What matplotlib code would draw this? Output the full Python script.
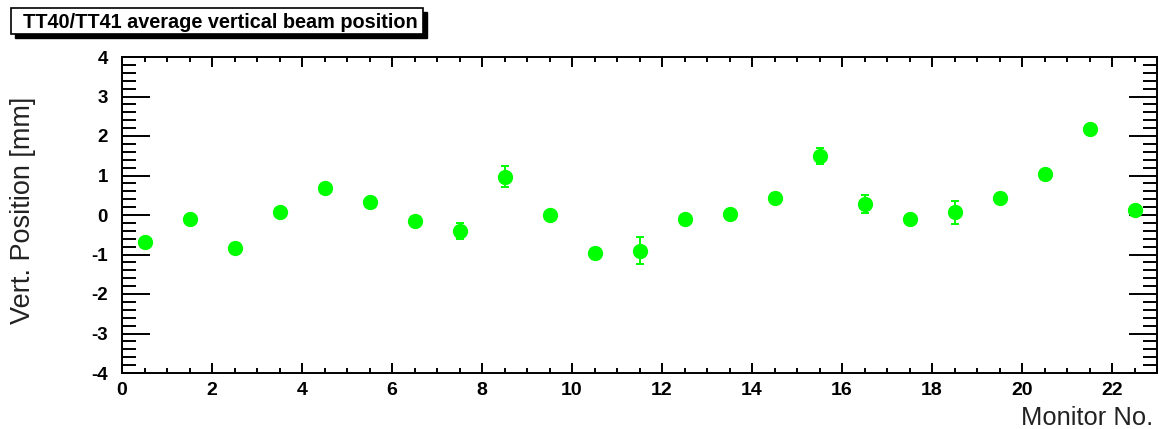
import matplotlib
matplotlib.use('Agg')
import matplotlib.pyplot as plt
from matplotlib.patches import Rectangle
from matplotlib.ticker import MultipleLocator

plt.rcParams['font.family'] = ['Liberation Sans', 'DejaVu Sans']
plt.rcParams['axes.unicode_minus'] = False

# monitor index (bin centres) and measured vertical position
monitor = [0.5, 1.5, 2.5, 3.5, 4.5, 5.5, 6.5, 7.5, 8.5, 9.5, 10.5, 11.5,
           12.5, 13.5, 14.5, 15.5, 16.5, 17.5, 18.5, 19.5, 20.5, 21.5, 22.5]
position = [-0.69, -0.11, -0.84, 0.08, 0.68, 0.32, -0.15, -0.40, 0.97, -0.01, -0.97, -0.90,
            -0.10, 0.03, 0.42, 1.49, 0.27, -0.10, 0.07, 0.42, 1.05, 2.17, 0.13]
error = [0.08, 0.06, 0.07, 0.06, 0.07, 0.07, 0.06, 0.20, 0.27, 0.05, 0.07, 0.34,
         0.06, 0.06, 0.07, 0.21, 0.23, 0.06, 0.29, 0.07, 0.06, 0.07, 0.06]

title = 'TT40/TT41 average vertical beam position'

W, H = 1159, 429
fig = plt.figure(figsize=(W / 100, H / 100), dpi=100)
ax = fig.add_axes([122 / W, 56 / H, 1035 / W, 316 / H])

ax.errorbar(monitor, position, yerr=error, fmt='o', color='#00ff00', ms=10,
            mec='#00ff00', elinewidth=1.4, capsize=3.2, capthick=1.4)

ax.set_xlim(0, 23)
ax.set_ylim(-4, 4)
ax.xaxis.set_major_locator(MultipleLocator(2))
ax.xaxis.set_minor_locator(MultipleLocator(0.5))
ax.yaxis.set_major_locator(MultipleLocator(1))
ax.yaxis.set_minor_locator(MultipleLocator(0.2))

for s in ax.spines.values():
    s.set_linewidth(1.4)

ax.tick_params(axis='x', which='major', direction='in', top=True, bottom=True,
               length=7.2, width=1.4, pad=6.5, labelsize=14)
ax.tick_params(axis='x', which='minor', direction='in', top=True, bottom=True,
               length=3.8, width=1.4)
ax.tick_params(axis='y', which='major', direction='in', left=True, right=True,
               length=20, width=1.4, pad=10, labelsize=13.5)
ax.tick_params(axis='y', which='minor', direction='in', left=True, right=True,
               length=10, width=1.4)
for lab in ax.get_xticklabels() + ax.get_yticklabels():
    lab.set_fontweight('bold')

# axis titles (ROOT style)
fig.text(30 / W, 1 - 210.5 / H, 'Vert. Position [mm]', rotation=90,
         rotation_mode='anchor', ha='center', va='baseline', fontsize=19.5,
         color='#222222')
fig.text(1153 / W, 4 / H, 'Monitor No.', ha='right', va='baseline',
         fontsize=18.4, color='#222222')

# title box with drop shadow
fig.patches.append(Rectangle((15 / W, 1 - 38 / H), 412 / W, 26 / H,
                             transform=fig.transFigure, facecolor='black',
                             edgecolor='black', zorder=1))
fig.patches.append(Rectangle((11 / W, 1 - 34 / H), 412 / W, 26 / H,
                             transform=fig.transFigure, facecolor='white',
                             edgecolor='black', lw=1.2, zorder=2))
fig.text(220 / W, 1 - 28.3 / H, title, ha='center', va='baseline',
         fontsize=14.3, fontweight='bold', zorder=3)

fig.savefig('out.png', dpi=100)
